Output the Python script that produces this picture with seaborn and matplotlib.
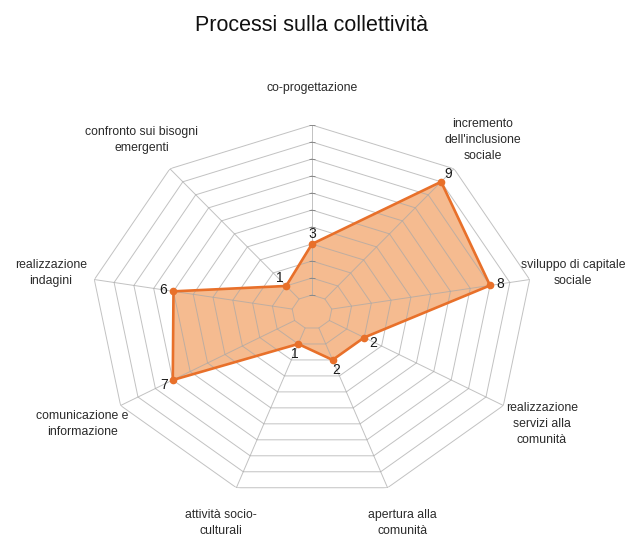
import numpy as np
import matplotlib
matplotlib.use("Agg")
import matplotlib.pyplot as plt
import seaborn as sns

categories = ["co-progettazione", "incremento\ndell'inclusione\nsociale",
              "sviluppo di capitale\nsociale", "realizzazione\nservizi alla\ncomunità",
              "apertura alla\ncomunità", "attività socio-\nculturali",
              "comunicazione e\ninformazione", "realizzazione\nindagini",
              "confronto sui bisogni\nemergenti"]
values = [3, 9, 8, 2, 2, 1, 7, 6, 1]
levels = list(range(0, 11))

sns.set_style("white")
plt.rcParams["font.family"] = ["Liberation Sans", "DejaVu Sans"]

n = len(categories)
theta = np.linspace(0, 2 * np.pi, n, endpoint=False)
theta_c = np.append(theta, theta[0])

fig = plt.figure(figsize=(6.3, 5.4), dpi=100)
ax = fig.add_axes([0.1444, 0.0759, 0.7016, 0.6926], projection="polar")
ax.set_theta_zero_location("N")
ax.set_theta_direction(-1)
ax.set_aspect("auto")
ax.set_ylim(-1, 10)
ax.grid(False)
ax.spines["polar"].set_visible(False)
ax.set_xticks([])
ax.set_yticks([])
ax.patch.set_alpha(0)

# filled area sits under the grid, so the web shows through it
vals_c = values + values[:1]
ax.fill(theta_c, vals_c, color="#f5bb90", zorder=1, lw=0)

grid_col = "#a8a8a8"
for lv in levels:
    ax.plot(theta_c, [lv] * (n + 1), color=grid_col, lw=0.7, alpha=0.7, zorder=2)
for t in theta:
    ax.plot([t, t], [0, 10], color=grid_col, lw=0.7, alpha=0.7, zorder=2)
ax.plot([0] * len(levels), levels, ls="none", marker="_", ms=5, mew=0.7,
        color="#8a8a8a", zorder=2)

sns.lineplot(x=theta_c, y=vals_c, sort=False, estimator=None, ax=ax,
             color="#e8702a", lw=1.9, zorder=3)
ax.plot(theta, values, ls="none", marker="o", ms=4.5, color="#e8702a", zorder=4)

for t, v in zip(theta, values):
    ax.annotate(str(v), (t, v), xytext=(7.5 * np.sin(t), 7.5 * np.cos(t)),
                textcoords="offset points", ha="center", va="center",
                fontsize=10, color="#1a1a1a", zorder=5)

for t, lab in zip(theta, categories):
    ax.text(t, 12.2, lab, ha="center", va="center", fontsize=8.8,
            color="#2a2a2a", linespacing=1.45)

fig.text(0.495, 0.953, "Processi sulla collettività", ha="center", va="center",
         fontsize=15.5, color="#111111")

fig.savefig("out.png", dpi=100)
